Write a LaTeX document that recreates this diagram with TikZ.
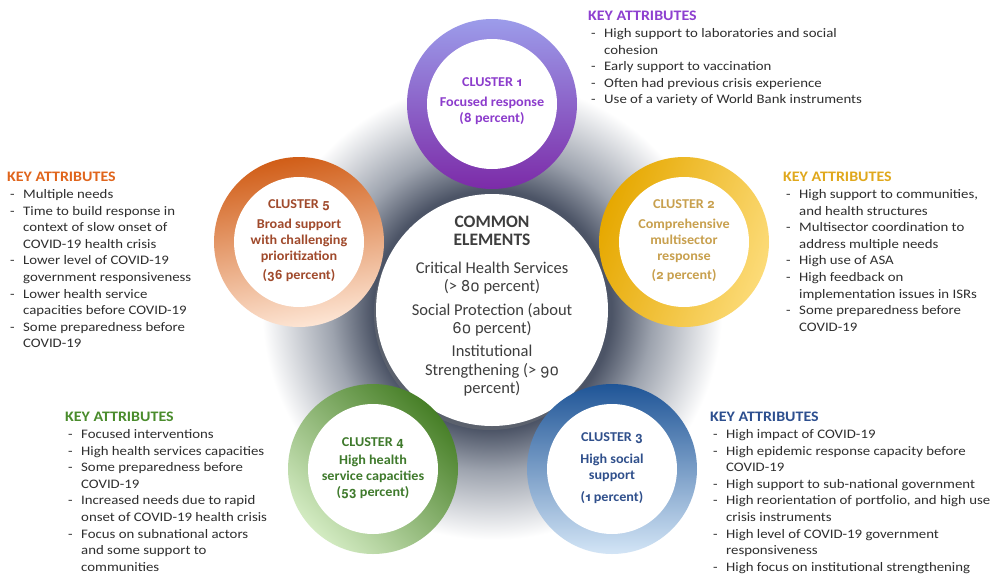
\documentclass[tikz,border=0pt]{standalone}
\usepackage{fontspec}
\setmainfont{Carlito}
\newfontfamily\kafont[FakeStretch=1.14]{Carlito}
\newfontfamily\hdfont[FakeStretch=1.10]{Carlito}
\newfontfamily\clfont[FakeStretch=1.05]{Carlito}
\newfontfamily\osfont[Numbers=OldStyle,Scale=0.95]{TeX Gyre Heros}
\newcommand\os[1]{{\osfont #1}}
\usetikzlibrary{shadows}
\definecolor{bodytxt}{HTML}{2E2E2E}
\definecolor{halogray}{HTML}{4C5466}
\definecolor{halomid}{HTML}{9DA3AE}
\definecolor{pTop}{HTML}{9C9CEA}\definecolor{pMid}{HTML}{B23EC6}\definecolor{pBot}{HTML}{7C2BA8}
\definecolor{gTop}{HTML}{E6A800}\definecolor{gBot}{HTML}{FCDB78}
\definecolor{bTop}{HTML}{1F5597}\definecolor{bBot}{HTML}{D3E5F6}
\definecolor{nTop}{HTML}{477F27}\definecolor{nBot}{HTML}{D3EBC2}
\definecolor{oTop}{HTML}{D15E18}\definecolor{oBot}{HTML}{FDE5D4}
\definecolor{t1}{HTML}{8C3CCC}\definecolor{h1}{HTML}{8E40D0}
\definecolor{t2}{HTML}{C8A04E}\definecolor{h2}{HTML}{E0A81C}
\definecolor{t3}{HTML}{30508C}\definecolor{h3}{HTML}{2D4F8F}
\definecolor{t4}{HTML}{3F7A2C}\definecolor{h4}{HTML}{4A8C2C}
\definecolor{t5}{HTML}{A04A2C}\definecolor{h5}{HTML}{E0651C}
\definecolor{centertxt}{HTML}{3E3E3E}
\pgfdeclareradialshading{halo}{\pgfpoint{0bp}{0bp}}{color(0bp)=(halogray); color(13bp)=(halogray); color(17.5bp)=(halomid); color(25bp)=(white); color(50bp)=(white)}
\newcommand\kahead[1]{\multicolumn{2}{@{}l@{}}{\hdfont\fontsize{14.5}{16.6}\selectfont\bfseries\color{#1}KEY ATTRIBUTES}}
\newcommand\dsh{\makebox[16pt][l]{\hspace{3pt}-}}
\newcommand\nodsh{\makebox[16pt][l]{}}
\tikzset{
  kab/.style={anchor=north west, inner sep=0pt, text=bodytxt, font=\kafont\fontsize{13}{16.6}\selectfont},
  clus/.style={inner sep=0pt, align=center, font=\clfont\bfseries\fontsize{13.5}{15.8}\selectfont},
  ctrtitle/.style={inner sep=0pt, align=center, text=centertxt, font=\bfseries\fontsize{17.5}{18.5}\selectfont},
  ctrtxt/.style={inner sep=0pt, align=center, text=centertxt, font=\fontsize{16.5}{18.5}\selectfont},
}
\begin{document}
\begin{tikzpicture}[x=1pt,y=-1pt]
\useasboundingbox[fill=white] (0,0) rectangle (997,576);
% halo
\coordinate (pc) at (492,310);
\shade[shading=halo] (pc) circle (230pt);
% center circle
\fill[white, drop shadow={shadow xshift=-2pt, shadow yshift=-4pt, opacity=0.3}] (pc) circle (116pt);
\node[circle, minimum size=232pt, inner sep=0pt] (center) at (pc) {};
% cluster rings
\coordinate (p1) at (492,104);
\coordinate (p2) at (684,242);
\coordinate (p3) at (612,469);
\coordinate (p4) at (373,469);
\coordinate (p5) at (299,242);
\shade[top color=pTop, middle color=pMid, bottom color=pBot] (p1) circle (85pt);
\shade[top color=gTop, bottom color=gBot, shading angle=70] (p2) circle (85pt);
\shade[top color=bTop, bottom color=bBot] (p3) circle (85pt);
\shade[top color=nTop, bottom color=nBot, shading angle=-45] (p4) circle (85pt);
\shade[top color=oTop, bottom color=oBot, shading angle=10] (p5) circle (85pt);
\foreach \p in {p1,p2,p3,p4,p5} \fill[white] (\p) circle (65pt);
% center text
\node[ctrtitle] (cetitle) at (492,231) {COMMON\\ELEMENTS};
\node[ctrtxt] (ce1) at (492,278) {Critical Health Services\\(> \os{80} percent)};
\node[ctrtxt] (ce2) at (492,320) {Social Protection (about\\\os{60} percent)};
\node[ctrtxt] (ce3) at (492,371) {Institutional\\Strengthening (> \os{90}\\percent)};
% cluster text
\node[clus, text=t1] (c1) at (492,101) {CLUSTER \os{1}\\[5pt]Focused response\\(\os{8} percent)};
\node[clus, text=t2] (c2) at (684,241) {CLUSTER \os{2}\\[4pt]Comprehensive\\multisector\\response\\[4pt](\os{2} percent)};
\node[clus, text=t3] (c3) at (612,468) {CLUSTER \os{3}\\[6pt]High social\\support\\[6pt](\os{1} percent)};
\node[clus, text=t4] (c4) at (373,468) {CLUSTER \os{4}\\[3pt]High health\\service capacities\\(\os{53} percent)};
\node[clus, text=t5] (c5) at (299,241) {CLUSTER \os{5}\\[4pt]Broad support\\with challenging\\prioritization\\[4pt](\os{36} percent)};
% key attributes
\node[kab] (k1) at (588,9) {\begin{tabular}{@{}l@{}l@{}}
\kahead{h1}\\
\dsh & High support to laboratories and social\\
\nodsh & cohesion\\
\dsh & Early support to vaccination\\
\dsh & Often had previous crisis experience\\
\dsh & Use of a variety of World Bank instruments\\
\end{tabular}};
\node[kab] (k2) at (783,170) {\begin{tabular}{@{}l@{}l@{}}
\kahead{h2}\\
\dsh & High support to communities,\\
\nodsh & and health structures\\
\dsh & Multisector coordination to\\
\nodsh & address multiple needs\\
\dsh & High use of ASA\\
\dsh & High feedback on\\
\nodsh & implementation issues in ISRs\\
\dsh & Some preparedness before\\
\nodsh & COVID-19\\
\end{tabular}};
\node[kab] (k3) at (710,410) {\begin{tabular}{@{}l@{}l@{}}
\kahead{h3}\\
\dsh & High impact of COVID-19\\
\dsh & High epidemic response capacity before\\
\nodsh & COVID-19\\
\dsh & High support to sub-national government\\
\dsh & High reorientation of portfolio, and high use\\
\nodsh & crisis instruments\\
\dsh & High level of COVID-19 government\\
\nodsh & responsiveness\\
\dsh & High focus on institutional strengthening\\
\end{tabular}};
\node[kab] (k4) at (65,410) {\begin{tabular}{@{}l@{}l@{}}
\kahead{h4}\\
\dsh & Focused interventions\\
\dsh & High health services capacities\\
\dsh & Some preparedness before\\
\nodsh & COVID-19\\
\dsh & Increased needs due to rapid\\
\nodsh & onset of COVID-19 health crisis\\
\dsh & Focus on subnational actors\\
\nodsh & and some support to\\
\nodsh & communities\\
\end{tabular}};
\node[kab] (k5) at (7,170) {\begin{tabular}{@{}l@{}l@{}}
\kahead{h5}\\
\dsh & Multiple needs\\
\dsh & Time to build response in\\
\nodsh & context of slow onset of\\
\nodsh & COVID-19 health crisis\\
\dsh & Lower level of COVID-19\\
\nodsh & government responsiveness\\
\dsh & Lower health service\\
\nodsh & capacities before COVID-19\\
\dsh & Some preparedness before\\
\nodsh & COVID-19\\
\end{tabular}};
\end{tikzpicture}
\end{document}
